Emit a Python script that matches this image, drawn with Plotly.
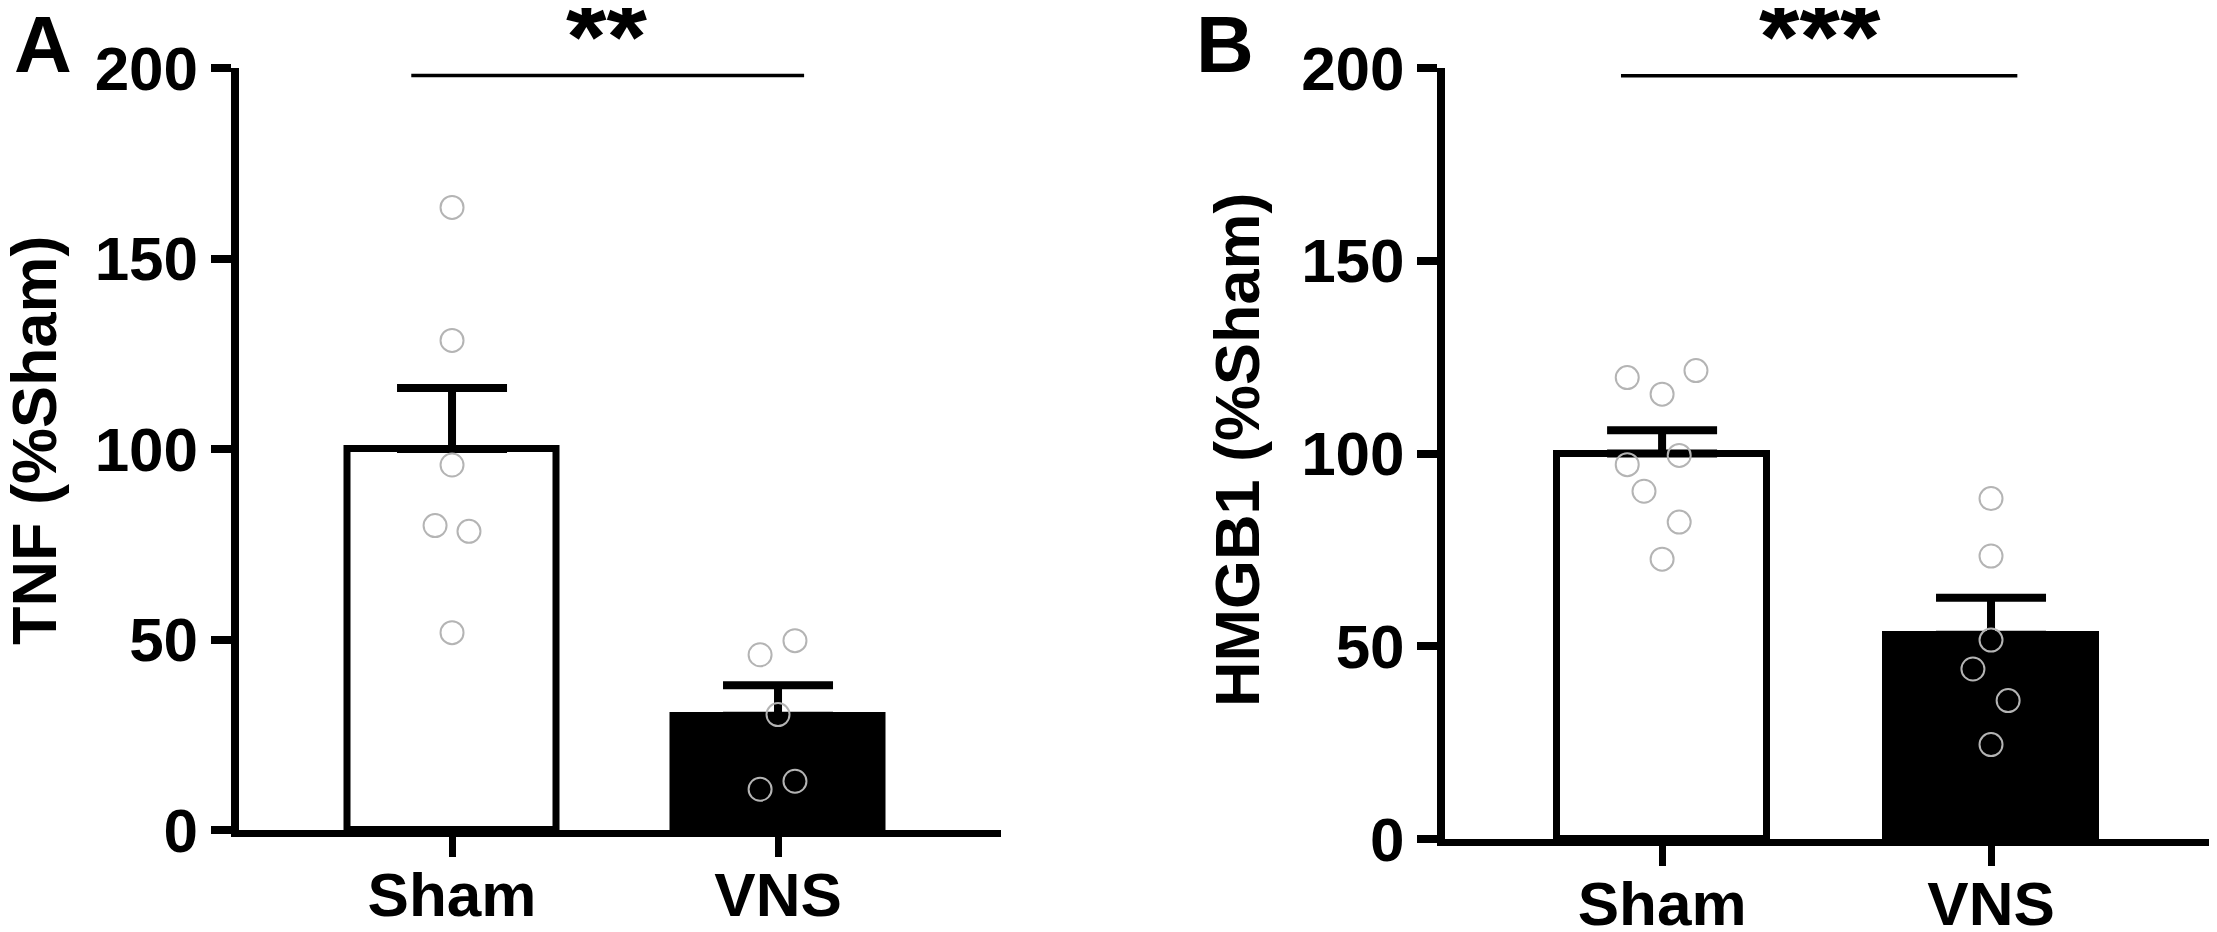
import plotly.graph_objects as go

# ---- data ----
groups = ["Sham", "VNS"]

tnf_mean = [100, 30]
tnf_sem = [16, 8]
tnf_sham = [163.4, 128.5, 95.8, 79.9, 78.4, 51.8]
tnf_vns = [49.7, 46.0, 30.3, 12.8, 10.7]

hmgb1_mean = [100, 53]
hmgb1_sem = [6, 9.6]
hmgb1_sham = [121.5, 119.7, 115.4, 99.5, 97.1, 90.2, 82.2, 72.6]
hmgb1_vns = [88.3, 73.4, 51.6, 44.1, 35.9, 24.5]

# horizontal scatter of the dots (in category units)
tnf_sham_off = [0, 0, 0, -0.052, 0.052, 0]
tnf_vns_off = [0.052, -0.055, 0, 0.052, -0.055]
hmgb1_sham_off = [0.103, -0.106, 0, 0.052, -0.106, -0.055, 0.052, 0]
hmgb1_vns_off = [0, 0, 0, -0.055, 0.052, 0]

y_ticks = [0, 50, 100, 150, 200]

# the page body has an 8px margin, so the figure starts 8px in from the corner
OFF = 8
W, H = 2217 - OFF, 932 - OFF
FONT = "Liberation Sans, Arial, sans-serif"
DOT = "#b4b4b4"


def px(x):
    return (x - OFF) / W


def py(y):
    return 1 - (y - OFF) / H


fig = go.Figure()


def add_panel(mean, sem, pts_list, offs_list, xa, ya):
    fig.add_trace(go.Bar(
        x=[0, 1], y=mean, width=0.64,
        marker=dict(color=["white", "black"], line=dict(color="black", width=7)),
        error_y=dict(type="data", symmetric=False, array=sem, arrayminus=[0, 0],
                     color="black", thickness=8, width=55),
        xaxis=xa, yaxis=ya, showlegend=False,
    ))
    for i, (pts, offs) in enumerate(zip(pts_list, offs_list)):
        fig.add_trace(go.Scatter(
            x=[i + o for o in offs], y=pts, mode="markers",
            marker=dict(symbol="circle-open", size=23, color=DOT, line=dict(width=2, color=DOT)),
            xaxis=xa, yaxis=ya, showlegend=False, cliponaxis=False,
        ))


add_panel(tnf_mean, tnf_sem, [tnf_sham, tnf_vns], [tnf_sham_off, tnf_vns_off], "x", "y")
add_panel(hmgb1_mean, hmgb1_sem, [hmgb1_sham, hmgb1_vns], [hmgb1_sham_off, hmgb1_vns_off], "x2", "y2")

tickfont = dict(family=FONT, size=62, color="black", weight="bold")
xax = dict(tickvals=[0, 1], ticktext=groups, showgrid=False, zeroline=False,
           showline=True, linecolor="black", linewidth=7, automargin=False,
           ticks="outside", ticklen=20, tickwidth=7, tickcolor="black",
           ticklabelstandoff=-15, tickfont=tickfont, fixedrange=True)
yax = dict(range=[0, 200], tickvals=y_ticks, showgrid=False, zeroline=False,
           showline=True, linecolor="black", linewidth=8, automargin=False,
           ticks="outside", ticklen=20, tickwidth=8, tickcolor="black",
           tickfont=tickfont, fixedrange=True)

fig.update_layout(
    template="none",
    width=W, height=H,
    margin=dict(l=0, r=0, t=0, b=0, pad=0),
    paper_bgcolor="white", plot_bgcolor="white",
    bargap=0,
    xaxis=dict(xax, domain=[px(238.5), px(1001)], range=[-0.655, 1.684], anchor="y"),
    yaxis=dict(yax, domain=[py(830), py(68)], anchor="x"),
    xaxis2=dict(xax, domain=[px(1445), 1.0], range=[-0.66, 1.687], anchor="y2"),
    yaxis2=dict(yax, domain=[py(839), py(68)], anchor="x2"),
)

# significance bars
for xa, ya in [("x", "y"), ("x2", "y2")]:
    fig.add_shape(type="line", xref=xa, yref=ya, x0=-0.125, x1=1.08, y0=198, y1=198,
                  line=dict(color="black", width=3.5))

big = dict(family=FONT, color="black", weight="bold")
fig.add_annotation(text="**", xref="x", yref="paper", x=0.475, y=py(37),
                   xanchor="center", yanchor="middle", showarrow=False, font=dict(big, size=104))
fig.add_annotation(text="***", xref="x2", yref="paper", x=0.48, y=py(37),
                   xanchor="center", yanchor="middle", showarrow=False, font=dict(big, size=104))

# panel letters
fig.add_annotation(text="A", xref="paper", yref="paper", x=px(43), y=py(45),
                   xanchor="center", yanchor="middle", showarrow=False, font=dict(big, size=80))
fig.add_annotation(text="B", xref="paper", yref="paper", x=px(1225), y=py(45),
                   xanchor="center", yanchor="middle", showarrow=False, font=dict(big, size=80))

# y-axis titles
fig.add_annotation(text="TNF (%Sham)", xref="paper", yref="paper", x=px(34), y=py(440),
                   xanchor="center", yanchor="middle",
                   textangle=-90, showarrow=False, font=dict(big, size=63))
fig.add_annotation(text="HMGB1 (%Sham)", xref="paper", yref="paper", x=px(1237), y=py(450),
                   xanchor="center", yanchor="middle",
                   textangle=-90, showarrow=False, font=dict(big, size=63))

fig.write_html("out.html")
